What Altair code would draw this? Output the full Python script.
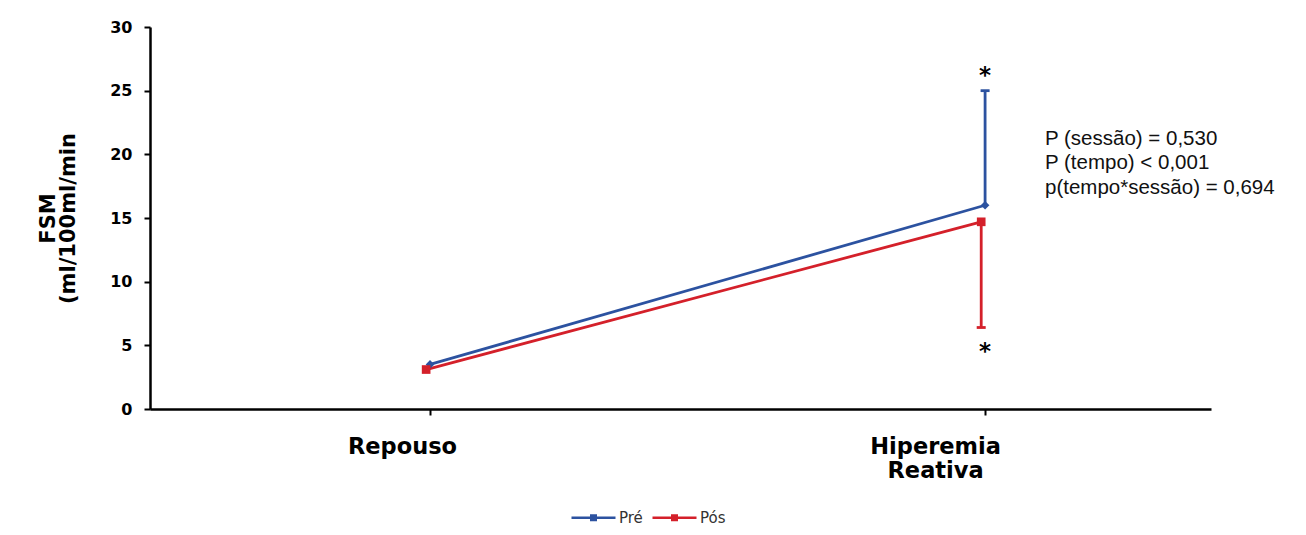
import altair as alt
import pandas as pd

# ---- data ----
categories = ["Repouso", "Hiperemia Reativa"]
series_names = ["Pré", "Pós"]
pre_mean = [3.5, 16.0]
pos_mean = [3.1, 14.7]
pre_err_upper = 25.0      # at Hiperemia Reativa
pos_err_lower = 6.4       # at Hiperemia Reativa
star_values = [26.5, 4.8]  # asterisks at Hiperemia Reativa
y_ticks = [0, 5, 10, 15, 20, 25, 30]
stats_lines = ["P (sessão) = 0,530", "P (tempo) < 0,001", "p(tempo*sessão) = 0,694"]

BLUE = "#2C52A0"
RED = "#D4202A"

rows = []
for i, c in enumerate(categories):
    rows.append({"idx": i, "cat": c, "series": "Pré", "value": pre_mean[i]})
    rows.append({"idx": i, "cat": c, "series": "Pós", "value": pos_mean[i]})
df = pd.DataFrame(rows)

err = pd.DataFrame([
    {"idx": 1, "series": "Pré", "value": pre_mean[1], "limit": pre_err_upper},
    {"idx": 1, "series": "Pós", "value": pos_mean[1], "limit": pos_err_lower},
])
stars = pd.DataFrame({"idx": [1, 1], "value": star_values, "t": ["*", "*"]})
stats = pd.DataFrame({"idx": [1.108], "value": [22.0], "t": [stats_lines]})

shift = "datum.idx + (datum.series == 'Pós' ? -0.007 : 0)"

xscale = alt.Scale(domain=[-0.5045, 1.407], nice=False, zero=False)
yscale = alt.Scale(domain=[0, 30], nice=False)
cscale = alt.Scale(domain=series_names, range=[BLUE, RED])

x_axis = alt.Axis(
    values=[0, 1],
    labelExpr="datum.value == 0 ? 'Repouso' : ['Hiperemia', 'Reativa']",
    title=None, grid=False,
    labelFont="DejaVu Sans", labelFontWeight="bold", labelFontSize=22.5,
    labelColor="black", labelLineHeight=24, labelPadding=20,
    labelOffset={"condition": {"test": "datum.value == 0", "value": -28}, "value": -50},
    tickSize=6, tickWidth=2, tickColor="black",
    domainColor="black", domainWidth=2.5,
)
y_axis = alt.Axis(
    values=y_ticks, grid=False,
    title=["FSM", "(ml/100ml/min"],
    titleFont="DejaVu Sans", titleFontWeight="bold", titleFontSize=21,
    titleColor="black", titlePadding=31, titleLineHeight=20,
    labelFont="DejaVu Sans", labelFontWeight="bold", labelFontSize=16,
    labelColor="black", labelPadding=12,
    tickSize=6, tickWidth=2, tickColor="black",
    domainColor="black", domainWidth=2.5,
)

legend_symbol = "M-1,0H1M-0.1,-0.1H0.1V0.1H-0.1Z"
leg = alt.Legend(
    title=None, orient="none", direction="horizontal",
    legendX=420, legendY=467,
    symbolType=legend_symbol, symbolSize=1936, symbolStrokeWidth=2.6,
    labelFont="DejaVu Sans", labelFontSize=15, labelColor="#333333",
    labelOffset=2, columnPadding=4,
)

base = alt.Chart(df).transform_calculate(xpos=shift)

lines = base.mark_line(strokeWidth=2.8).encode(
    x=alt.X("xpos:Q", scale=xscale, axis=x_axis),
    y=alt.Y("value:Q", scale=yscale, axis=y_axis),
    color=alt.Color("series:N", scale=cscale, legend=leg),
    detail="series:N",
)

pts_pre = base.transform_filter("datum.series == 'Pré'").mark_point(
    filled=True, opacity=1, shape="diamond", size=75, color=BLUE
).encode(
    x=alt.X("xpos:Q", scale=xscale),
    y=alt.Y("value:Q", scale=yscale),
)
pts_pos = base.transform_filter("datum.series == 'Pós'").mark_point(
    filled=True, opacity=1, shape="square", size=75, color=RED
).encode(
    x=alt.X("xpos:Q", scale=xscale),
    y=alt.Y("value:Q", scale=yscale),
)

ebase = alt.Chart(err).transform_calculate(xpos=shift)
erules = ebase.mark_rule(strokeWidth=2.8).encode(
    x=alt.X("xpos:Q", scale=xscale),
    y=alt.Y("value:Q", scale=yscale),
    y2="limit:Q",
    color=alt.Color("series:N", scale=cscale, legend=None),
)
ecaps = ebase.mark_tick(orient="horizontal", size=9, thickness=2.8, opacity=1).encode(
    x=alt.X("xpos:Q", scale=xscale),
    y=alt.Y("limit:Q", scale=yscale),
    color=alt.Color("series:N", scale=cscale, legend=None),
)

star_text = alt.Chart(stars).mark_text(
    font="DejaVu Sans", fontWeight="bold", fontSize=23, color="black",
    baseline="alphabetic", dy=11,
).encode(
    x=alt.X("idx:Q", scale=xscale),
    y=alt.Y("value:Q", scale=yscale),
    text="t:N",
)

stats_text = alt.Chart(stats).mark_text(
    font="Liberation Sans", fontSize=20.5, color="#111111",
    align="left", baseline="top", lineHeight=24.5,
).encode(
    x=alt.X("idx:Q", scale=xscale),
    y=alt.Y("value:Q", scale=yscale),
    text="t",
)

chart = alt.layer(lines, erules, ecaps, pts_pre, pts_pos, star_text, stats_text).properties(
    width=1061, height=382,
    autosize=alt.AutoSizeParams(type="none"),
    padding={"left": 142, "top": 19, "right": 87, "bottom": 118},
).configure(background="white").configure_view(stroke=None)

chart.save("out.html", embed_options={"renderer": "svg", "actions": False})
